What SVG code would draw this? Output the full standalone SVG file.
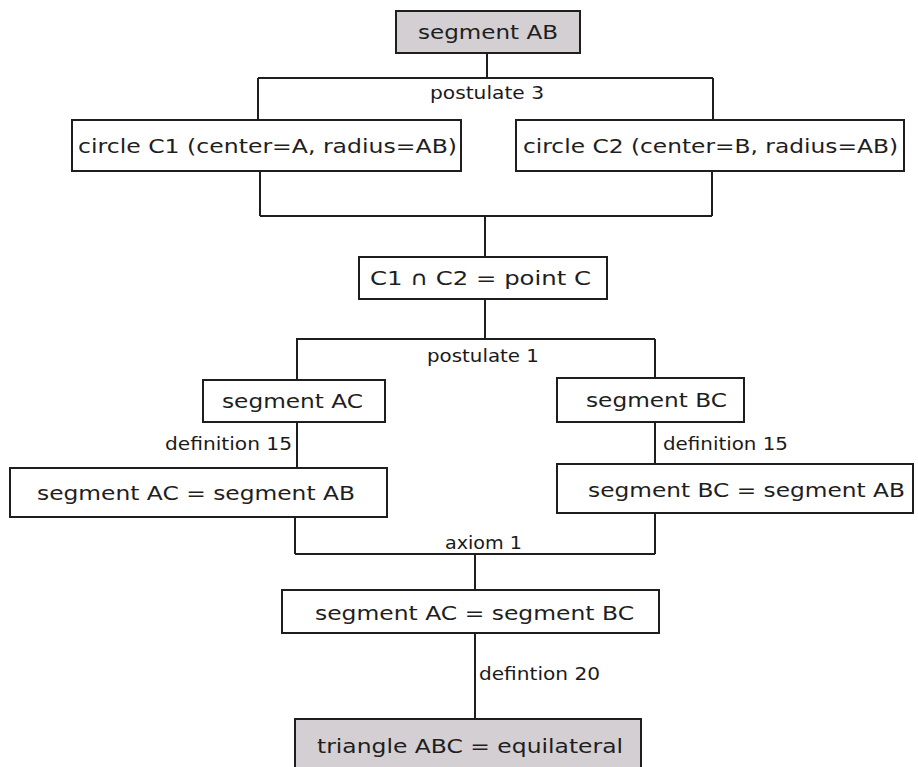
<svg xmlns="http://www.w3.org/2000/svg" width="918" height="767" viewBox="0 0 918 767">
  <style>
    .box { fill: #ffffff; stroke: #1e1e1e; stroke-width: 2; }
    .box.shade { fill: #d3cfd3; }
    .wire { fill: none; stroke: #1e1e1e; stroke-width: 2; }
    .txt { font-family: "DejaVu Sans", Verdana, sans-serif; font-size: 19.5px; fill: #1e1e1e; }
    .lbl { font-family: "DejaVu Sans", Verdana, sans-serif; font-size: 17px; fill: #1a1a1a; }
  </style>
  <rect width="918" height="767" fill="#ffffff"/>

  <!-- connectors -->
  <g id="connectors">
    <path class="wire" d="M487 53 V78 M258 78 H713 M258 78 V120 M713 78 V120"/>
    <path class="wire" d="M260 171 V216 M712 171 V216 M260 216 H712 M485 216 V257"/>
    <path class="wire" d="M485 299 V339 M296 339 H655 M297 339 V380 M655 339 V378"/>
    <path class="wire" d="M297 422 V468 M655 422 V464"/>
    <path class="wire" d="M295 517 V554 M655 513 V554 M295 554 H655 M475 554 V590"/>
    <path class="wire" d="M475 633 V719"/>
    <text class="lbl" x="430" y="99" textLength="114" lengthAdjust="spacingAndGlyphs">postulate 3</text>
    <text class="lbl" x="427" y="362" textLength="112" lengthAdjust="spacingAndGlyphs">postulate 1</text>
    <text class="lbl" x="165" y="450" textLength="127" lengthAdjust="spacingAndGlyphs">definition 15</text>
    <text class="lbl" x="663" y="450" textLength="125" lengthAdjust="spacingAndGlyphs">definition 15</text>
    <text class="lbl" x="445" y="549" textLength="77" lengthAdjust="spacingAndGlyphs">axiom 1</text>
    <text class="lbl" x="479" y="680" textLength="121" lengthAdjust="spacingAndGlyphs">defintion 20</text>
  </g>

  <!-- nodes -->
  <g id="segAB">
    <rect class="box shade" x="396" y="11" width="184" height="42"/>
    <text class="txt" x="418" y="39" textLength="140" lengthAdjust="spacingAndGlyphs">segment AB</text>
  </g>
  <g id="circleC1">
    <rect class="box" x="72" y="120" width="389" height="51"/>
    <text class="txt" x="78" y="153" textLength="379" lengthAdjust="spacingAndGlyphs">circle C1 (center=A, radius=AB)</text>
  </g>
  <g id="circleC2">
    <rect class="box" x="516" y="120" width="388" height="51"/>
    <text class="txt" x="523" y="153" textLength="375" lengthAdjust="spacingAndGlyphs">circle C2 (center=B, radius=AB)</text>
  </g>
  <g id="pointC">
    <rect class="box" x="359" y="257" width="248" height="42"/>
    <text class="txt" x="370" y="285" textLength="221" lengthAdjust="spacingAndGlyphs">C1 ∩ C2 =  point C</text>
  </g>
  <g id="segAC">
    <rect class="box" x="203" y="380" width="182" height="42"/>
    <text class="txt" x="222" y="408" textLength="141" lengthAdjust="spacingAndGlyphs">segment AC</text>
  </g>
  <g id="segBC">
    <rect class="box" x="557" y="378" width="187" height="44"/>
    <text class="txt" x="586" y="407" textLength="141" lengthAdjust="spacingAndGlyphs">segment BC</text>
  </g>
  <g id="acEqAB">
    <rect class="box" x="10" y="468" width="377" height="49"/>
    <text class="txt" x="37" y="500" textLength="318" lengthAdjust="spacingAndGlyphs">segment AC = segment AB</text>
  </g>
  <g id="bcEqAB">
    <rect class="box" x="557" y="464" width="356" height="49"/>
    <text class="txt" x="588" y="497" textLength="317" lengthAdjust="spacingAndGlyphs">segment BC = segment AB</text>
  </g>
  <g id="acEqBC">
    <rect class="box" x="282" y="590" width="377" height="43"/>
    <text class="txt" x="315" y="620" textLength="319" lengthAdjust="spacingAndGlyphs">segment AC = segment BC</text>
  </g>
  <g id="equilateral">
    <rect class="box shade" x="295" y="719" width="346" height="60"/>
    <text class="txt" x="317" y="753" textLength="306" lengthAdjust="spacingAndGlyphs">triangle ABC = equilateral</text>
  </g>
</svg>
